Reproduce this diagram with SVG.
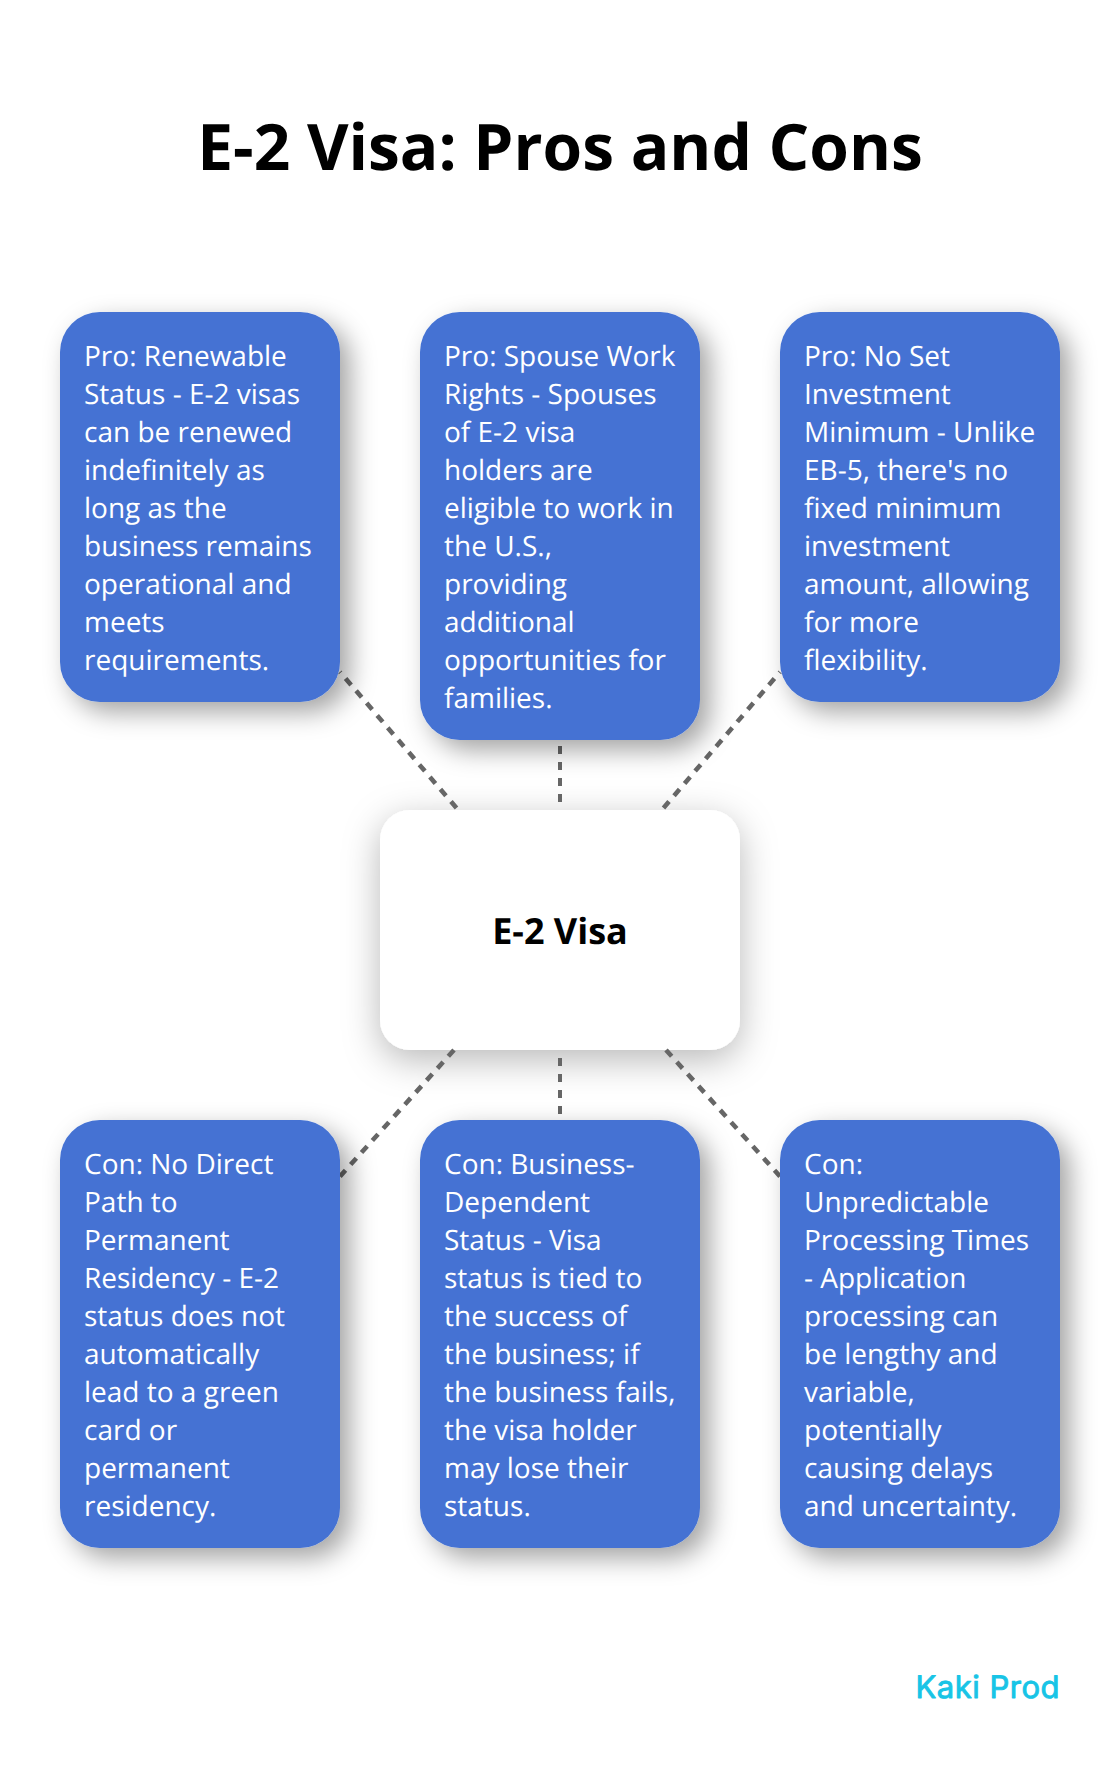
<svg xmlns="http://www.w3.org/2000/svg" width="1120" height="1788" viewBox="0 0 1120 1788">
<style>
text{font-family:"Open Sans","Noto Sans",sans-serif;text-rendering:geometricPrecision}
.b{fill:#4472d3;filter:url(#s)}
.t{fill:#fff;font-size:28px}
.c path{fill:none;stroke:#666;stroke-width:4;stroke-dasharray:8 8}
.c path.d{stroke-width:4.6;stroke-dasharray:8.5 7.7}
</style>
<defs><filter id="s" x="-30%" y="-30%" width="160%" height="160%"><feDropShadow dx="10" dy="10" stdDeviation="13" flood-color="#000" flood-opacity=".36"/></filter>
<filter id="h" x="-30%" y="-30%" width="160%" height="160%"><feDropShadow dx="0" dy="10" stdDeviation="18" flood-color="#000" flood-opacity=".28"/></filter></defs>
<rect width="1120" height="1788" fill="#fff"/>
<text id="title" x="560" y="170" text-anchor="middle" font-size="64" font-weight="700" fill="#000">E-2 Visa: Pros and Cons</text>
<g id="center"><rect x="380" y="810" width="360" height="240" rx="30" fill="#fff" filter="url(#h)"/><text x="560" y="944" text-anchor="middle" font-size="36" font-weight="700" fill="#000">E-2 Visa</text></g>
<g class="c" id="connectors">
<path class="d" d="M456.5 808L340 672"/>
<path d="M560 802V746"/>
<path class="d" d="M663.5 808L780 672"/>
<path class="d" d="M454 1050L340 1176.4"/>
<path d="M560 1058V1114"/>
<path class="d" d="M666 1050L780 1176.4"/>
</g>
<g id="p1"><rect class="b" x="60" y="312" width="280" height="390" rx="40"/><text class="t"><tspan x="84" y="366">Pro: Renewable</tspan><tspan x="84" y="404">Status - E-2 visas</tspan><tspan x="84" y="442">can be renewed</tspan><tspan x="84" y="480">indefinitely as</tspan><tspan x="84" y="518">long as the</tspan><tspan x="84" y="556">business remains</tspan><tspan x="84" y="594">operational and</tspan><tspan x="84" y="632">meets</tspan><tspan x="84" y="670">requirements.</tspan></text></g>
<g id="p2"><rect class="b" x="420" y="312" width="280" height="428" rx="40"/><text class="t"><tspan x="444" y="366">Pro: Spouse Work</tspan><tspan x="444" y="404">Rights - Spouses</tspan><tspan x="444" y="442">of E-2 visa</tspan><tspan x="444" y="480">holders are</tspan><tspan x="444" y="518">eligible to work in</tspan><tspan x="444" y="556">the U.S.,</tspan><tspan x="444" y="594">providing</tspan><tspan x="444" y="632">additional</tspan><tspan x="444" y="670">opportunities for</tspan><tspan x="444" y="708">families.</tspan></text></g>
<g id="p3"><rect class="b" x="780" y="312" width="280" height="390" rx="40"/><text class="t"><tspan x="804" y="366">Pro: No Set</tspan><tspan x="804" y="404">Investment</tspan><tspan x="804" y="442">Minimum - Unlike</tspan><tspan x="804" y="480">EB-5, there's no</tspan><tspan x="804" y="518">fixed minimum</tspan><tspan x="804" y="556">investment</tspan><tspan x="804" y="594">amount, allowing</tspan><tspan x="804" y="632">for more</tspan><tspan x="804" y="670">flexibility.</tspan></text></g>
<g id="c1"><rect class="b" x="60" y="1120" width="280" height="428" rx="40"/><text class="t"><tspan x="84" y="1174">Con: No Direct</tspan><tspan x="84" y="1212">Path to</tspan><tspan x="84" y="1250">Permanent</tspan><tspan x="84" y="1288">Residency - E-2</tspan><tspan x="84" y="1326">status does not</tspan><tspan x="84" y="1364">automatically</tspan><tspan x="84" y="1402">lead to a green</tspan><tspan x="84" y="1440">card or</tspan><tspan x="84" y="1478">permanent</tspan><tspan x="84" y="1516">residency.</tspan></text></g>
<g id="c2"><rect class="b" x="420" y="1120" width="280" height="428" rx="40"/><text class="t"><tspan x="444" y="1174">Con: Business-</tspan><tspan x="444" y="1212">Dependent</tspan><tspan x="444" y="1250">Status - Visa</tspan><tspan x="444" y="1288">status is tied to</tspan><tspan x="444" y="1326">the success of</tspan><tspan x="444" y="1364">the business; if</tspan><tspan x="444" y="1402">the business fails,</tspan><tspan x="444" y="1440">the visa holder</tspan><tspan x="444" y="1478">may lose their</tspan><tspan x="444" y="1516">status.</tspan></text></g>
<g id="c3"><rect class="b" x="780" y="1120" width="280" height="428" rx="40"/><text class="t"><tspan x="804" y="1174">Con:</tspan><tspan x="804" y="1212">Unpredictable</tspan><tspan x="804" y="1250">Processing Times</tspan><tspan x="804" y="1288">- Application</tspan><tspan x="804" y="1326">processing can</tspan><tspan x="804" y="1364">be lengthy and</tspan><tspan x="804" y="1402">variable,</tspan><tspan x="804" y="1440">potentially</tspan><tspan x="804" y="1478">causing delays</tspan><tspan x="804" y="1516">and uncertainty.</tspan></text></g>
<text id="logo" x="1060" y="1698" text-anchor="end" font-size="31" font-weight="400" letter-spacing=".5" stroke="#18c4e6" stroke-width=".9" stroke-linejoin="round" style="font-family:Inter,sans-serif" fill="#18c4e6">Kaki Prod</text>
</svg>
